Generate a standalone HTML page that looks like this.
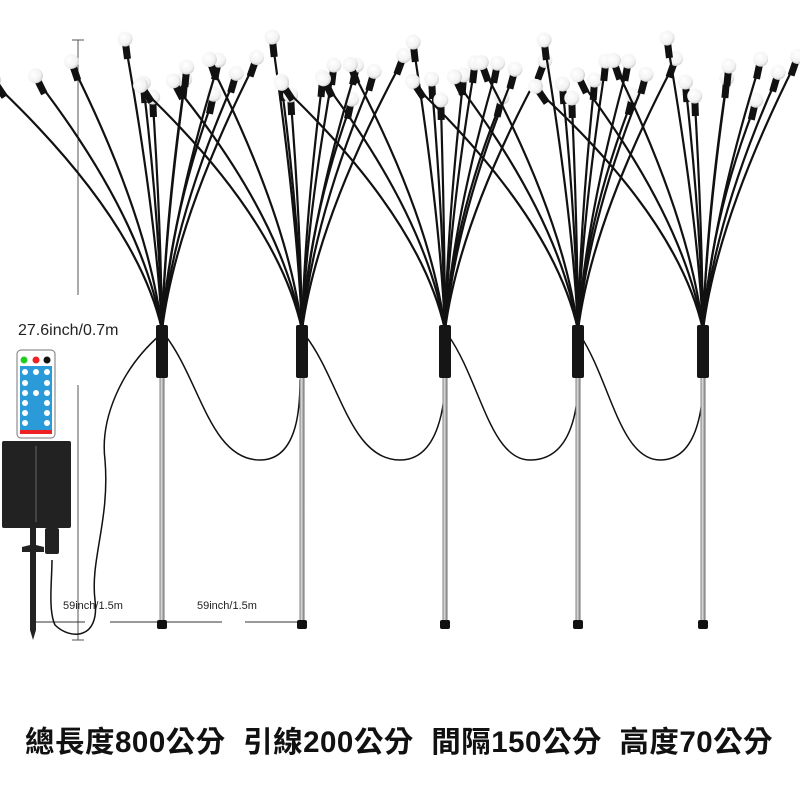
<!DOCTYPE html>
<html><head><meta charset="utf-8"><style>
body{margin:0;background:#fff;width:800px;height:800px;overflow:hidden;position:relative;font-family:"Liberation Sans","Noto Sans CJK TC",sans-serif}
svg{position:absolute;left:0;top:0}
.t{position:absolute;white-space:nowrap}
</style></head><body>
<svg id="s" width="800" height="800" viewBox="0 0 800 800">
<defs><radialGradient id="g" cx="0.4" cy="0.35" r="0.7"><stop offset="0" stop-color="#fff"/><stop offset="0.7" stop-color="#f2f2f2"/><stop offset="1" stop-color="#c8c8c8"/></radialGradient>
<linearGradient id="p" x1="0" x2="1"><stop offset="0" stop-color="#777"/><stop offset="0.4" stop-color="#ddd"/><stop offset="1" stop-color="#666"/></linearGradient></defs>
<line x1="78" y1="40" x2="78" y2="295" stroke="#555" stroke-width="1"/>
<line x1="72" y1="40" x2="84" y2="40" stroke="#555"/>
<line x1="78" y1="385" x2="78" y2="640" stroke="#555" stroke-width="1"/>
<line x1="72" y1="640" x2="84" y2="640" stroke="#555"/>
<line x1="30" y1="622" x2="85" y2="622" stroke="#333"/>
<line x1="110" y1="622" x2="222" y2="622" stroke="#333"/>
<line x1="245" y1="622" x2="300" y2="622" stroke="#333"/>
<g fill="none" stroke="#111" stroke-width="1.5">
<path d="M160 335 C120 370 100 420 105 460 C110 520 90 560 95 600 C100 640 70 640 55 625 C48 610 52 580 52 560"/>
<path d="M165 335 C200 380 210 460 260 460 C300 460 300 400 300 380"/>
<path d="M305 335 C340 380 350 460 400 460 C440 460 445 400 445 380"/>
<path d="M448 335 C480 380 490 460 530 460 C575 460 578 400 578 380"/>
<path d="M580 335 C610 380 620 460 660 460 C700 460 703 400 703 380"/>
</g>
<g id="fx"></g>
<rect x="17" y="350" width="38" height="88" rx="4" fill="#fff" stroke="#777"/>
<rect x="20" y="366" width="32" height="64" fill="#2a9ad8"/>
<circle cx="24" cy="360" r="3.5" fill="#2c2"/><circle cx="36" cy="360" r="3.5" fill="#e22"/><circle cx="47" cy="360" r="3.5" fill="#111"/>
<rect x="20" y="430" width="32" height="4" fill="#e22"/>
<g fill="#fff"><circle cx="25" cy="372" r="3"/><circle cx="36" cy="372" r="3"/><circle cx="47" cy="372" r="3"/><circle cx="25" cy="383" r="3"/><circle cx="47" cy="383" r="3"/><circle cx="25" cy="393" r="3"/><circle cx="36" cy="393" r="3"/><circle cx="47" cy="393" r="3"/><circle cx="25" cy="403" r="3"/><circle cx="47" cy="403" r="3"/><circle cx="25" cy="413" r="3"/><circle cx="47" cy="413" r="3"/><circle cx="25" cy="423" r="3"/><circle cx="47" cy="423" r="3"/></g>
<rect x="2" y="441" width="69" height="87" rx="2" fill="#222"/>
<line x1="36" y1="446" x2="36" y2="522" stroke="#666"/>
<path d="M30 528 L36 528 L36 545 L44 547 L44 552 L36 552 L36 630 L33 640 L30 630 L30 552 L22 552 L22 547 L30 545Z" fill="#222"/>
<rect x="45" y="528" width="14" height="26" rx="2" fill="#222"/>
</svg>
<div class="t" style="left:18px;top:322px;font-size:16px;color:#222">27.6inch/0.7m</div>
<div class="t" style="left:63px;top:600px;font-size:11px;color:#222">59inch/1.5m</div>
<div class="t" style="left:197px;top:600px;font-size:11px;color:#222">59inch/1.5m</div>
<div class="t" style="left:25px;top:719px;font-size:29.5px;font-weight:bold;color:#111;letter-spacing:0.5px;font-family:'Liberation Sans','Noto Sans CJK TC',sans-serif">總長度800公分&nbsp;&nbsp;引線200公分&nbsp;&nbsp;間隔150公分&nbsp;&nbsp;高度70公分</div>
<script>
var g=document.getElementById("fx"),h="";
var cxs=[162,302,445,578,703];
var pat=[[-160,80],[-122,75],[-90,60],[-32,37],[-17,80],[20,75],[28,62],[51,95],[53,60],[96,56],[-8,95],[70,70]];
cxs.forEach(function(cx,i){
 pat.forEach(function(b,j){
  var dx=b[0]+((i*7+j*3)%9-4), bx=cx+dx, by=b[1]+((i*5+j)%7-3);
  if(bx>795)bx=795;
  var c1x=cx+dx*0.15, c1y=220;
  h+='<path d="M'+cx+' 330 Q'+c1x+' '+c1y+' '+bx+' '+(by+10)+'" fill="none" stroke="#111" stroke-width="2.2"/>';
  var ang=Math.atan2(330-(by+10),cx-bx)*180/Math.PI-90;
  h+='<g transform="translate('+bx+' '+(by+10)+') rotate('+ang+')"><rect x="-3.5" y="-2" width="7" height="14" fill="#111"/><circle cx="0" cy="-8" r="7.5" fill="url(#g)"/></g>';
 });
 h+='<rect x="'+(cx-2.5)+'" y="378" width="5" height="244" fill="url(#p)"/>';
 h+='<rect x="'+(cx-6)+'" y="325" width="12" height="53" rx="2" fill="#151515"/>';
 h+='<rect x="'+(cx-5)+'" y="620" width="10" height="9" rx="2" fill="#111"/>';
});
g.innerHTML=h;
</script>
</body></html>
